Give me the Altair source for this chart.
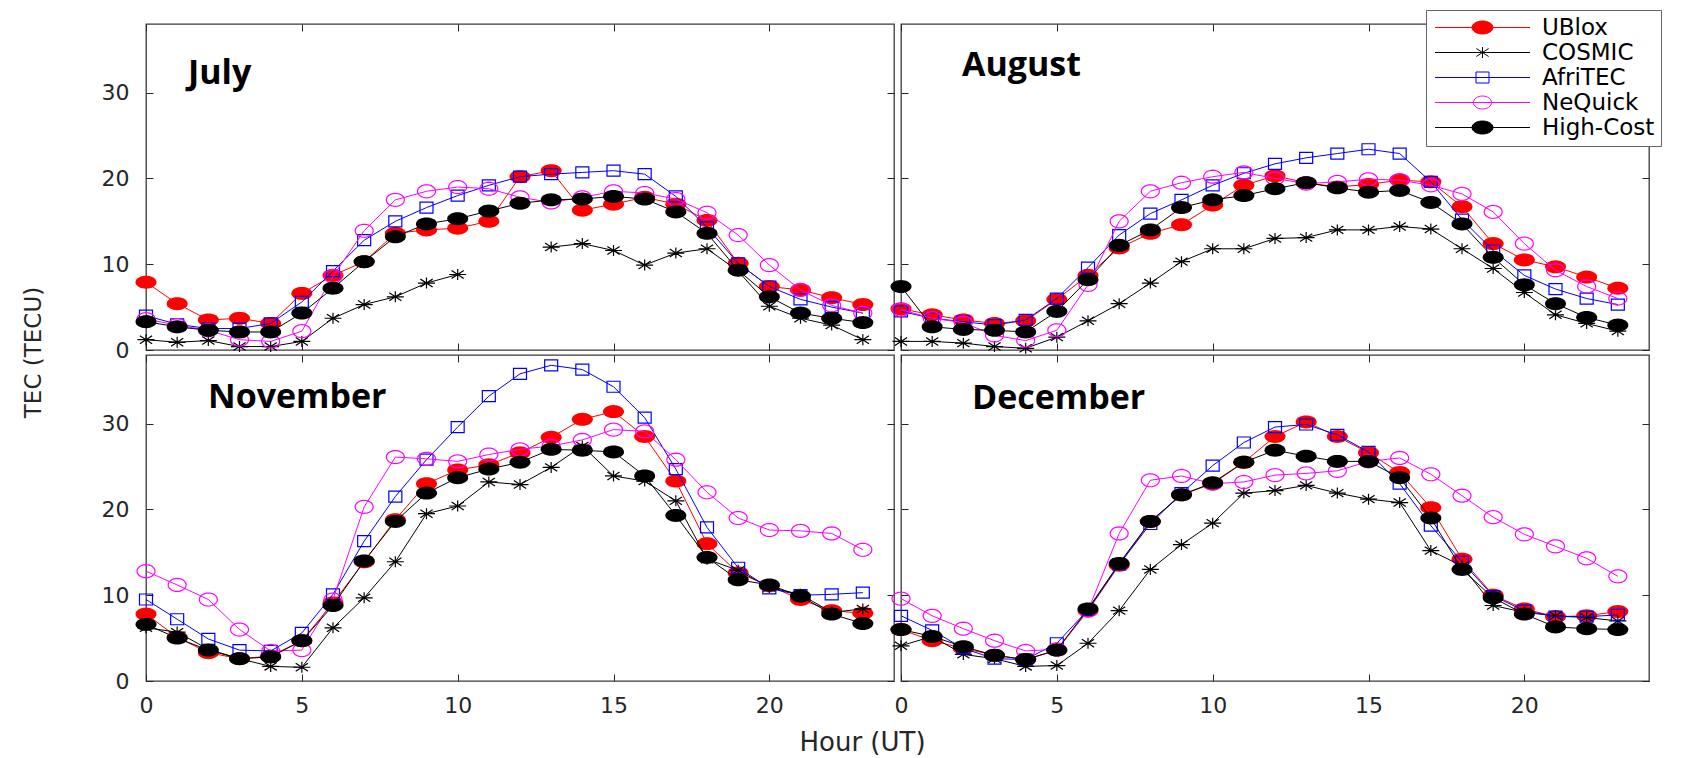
import math
import altair as alt
import pandas as pd

hours = list(range(24))
series_names = ["UBlox", "COSMIC", "AfriTEC", "NeQuick", "High-Cost"]
months = ["July", "August", "November", "December"]
x_ticks = [0, 5, 10, 15, 20]
y_ticks = [0, 10, 20, 30]

# ---- July ----
july_ublox = [7.9, 5.4, 3.5, 3.7, 3.1, 6.6, 8.7, 10.3, 13.6, 14.0, 14.2, 15.0, 20.2, 20.9, 16.3, 17.0, 17.8, 17.0, 15.1, 10.1, 7.4, 7.0, 6.1, 5.3]
july_cosmic = [1.2, 0.9, 1.1, 0.4, 0.4, 1.0, 3.7, 5.3, 6.2, 7.8, 8.8, None, None, 12.0, 12.4, 11.6, 9.9, 11.3, 11.8, 9.2, 5.1, 3.7, 2.9, 1.2]
july_afritec = [4.0, 3.0, 2.5, 2.5, 3.1, 5.6, 9.2, 12.8, 15.0, 16.6, 18.0, 19.2, 20.2, 20.5, 20.7, 20.9, 20.5, 17.9, 14.3, 10.1, 7.4, 5.9, 5.0, 4.3]
july_nequick = [3.6, 2.9, 2.3, 1.2, 1.0, 2.2, 8.6, 13.9, 17.5, 18.5, 19.0, 18.8, 17.8, 17.2, 17.8, 18.5, 18.3, 17.6, 16.0, 13.4, 9.9, 7.0, 5.2, 4.3]
july_highcost = [3.3, 2.7, 2.3, 2.1, 2.1, 4.3, 7.2, 10.3, 13.2, 14.7, 15.3, 16.2, 17.1, 17.5, 17.6, 17.9, 17.6, 16.1, 13.6, 9.3, 6.2, 4.3, 3.7, 3.2]

# ---- August ----
aug_ublox = [4.8, 4.1, 3.5, 3.1, 3.4, 5.9, 8.7, 11.9, 13.6, 14.6, 16.9, 19.2, 20.3, 19.5, 19.0, 19.3, 19.8, 19.6, 16.7, 12.4, 10.5, 9.7, 8.5, 7.2]
aug_cosmic = [1.0, 1.0, 0.8, 0.4, 0.2, 1.5, 3.4, 5.4, 7.8, 10.3, 11.8, 11.8, 13.0, 13.1, 14.0, 14.0, 14.4, 14.1, 11.8, 9.5, 6.7, 4.1, 3.1, 2.2]
aug_afritec = [4.5, 3.7, 3.3, 2.9, 3.5, 6.0, 9.6, 13.4, 15.9, 17.5, 19.2, 20.6, 21.7, 22.4, 22.9, 23.4, 22.9, 19.6, 15.2, 11.6, 8.7, 7.1, 6.0, 5.3]
aug_nequick = [4.7, 3.7, 3.2, 1.7, 1.1, 2.3, 7.6, 15.0, 18.5, 19.5, 20.2, 20.7, 20.0, 19.4, 19.6, 19.9, 19.8, 19.2, 18.2, 16.1, 12.4, 9.3, 7.4, 6.0]
aug_highcost = [7.4, 2.7, 2.4, 2.3, 2.1, 4.5, 8.2, 12.2, 14.0, 16.6, 17.5, 18.0, 18.8, 19.5, 18.9, 18.4, 18.6, 17.2, 14.7, 10.8, 7.6, 5.4, 3.8, 2.9]

# ---- November ----
nov_ublox = [7.8, 5.1, 3.3, 2.6, 2.9, 4.7, 9.1, 13.9, 18.8, 23.0, 24.6, 25.2, 26.6, 28.4, 30.5, 31.4, 28.5, 23.3, 16.0, 12.6, 11.1, 9.5, 8.2, 7.9]
nov_cosmic = [6.2, 5.7, 3.7, 2.6, 1.7, 1.6, 6.2, 9.7, 13.9, 19.5, 20.4, 23.2, 22.9, 24.9, 27.4, 23.9, 23.3, 21.0, 14.2, 12.9, 10.9, 10.1, 8.0, 8.4]
nov_afritec = [9.5, 7.2, 4.9, 3.6, 3.5, 5.6, 10.1, 16.3, 21.5, 25.8, 29.6, 33.2, 35.8, 36.8, 36.3, 34.3, 30.7, 24.7, 17.9, 13.2, 10.8, 10.0, 10.1, 10.3]
nov_nequick = [12.8, 11.2, 9.5, 6.0, 3.5, 3.6, 9.5, 20.3, 26.1, 25.9, 25.6, 26.4, 27.0, 27.4, 28.1, 29.3, 29.1, 25.8, 22.0, 19.0, 17.6, 17.5, 17.2, 15.3]
nov_highcost = [6.6, 5.0, 3.6, 2.6, 2.8, 4.7, 8.8, 14.0, 18.6, 21.9, 23.7, 24.7, 25.5, 27.0, 26.9, 26.7, 23.9, 19.3, 14.4, 11.8, 11.2, 9.9, 7.8, 6.7]

# ---- December ----
dec_ublox = [6.0, 4.7, 3.8, 3.0, 2.5, 3.6, 8.2, 13.5, 18.6, 21.7, 23.0, 25.5, 28.5, 30.2, 28.5, 26.6, 24.3, 20.2, 14.2, 10.0, 8.4, 7.5, 7.6, 8.1]
dec_cosmic = [4.1, 5.2, 3.1, 2.6, 1.7, 1.8, 4.4, 8.2, 13.0, 15.9, 18.4, 21.9, 22.2, 22.8, 21.9, 21.2, 20.8, 15.2, 13.4, 8.8, 8.0, 7.6, 7.4, 7.0]
dec_afritec = [7.6, 5.9, 3.8, 2.6, 2.5, 4.4, 8.3, 13.6, 18.3, 21.9, 25.1, 27.8, 29.6, 29.9, 28.7, 26.7, 23.0, 18.1, 13.9, 9.9, 8.2, 7.5, 7.5, 7.7]
dec_nequick = [9.6, 7.6, 6.1, 4.7, 3.5, 3.7, 8.2, 17.2, 23.4, 23.9, 23.0, 23.2, 24.0, 24.2, 24.5, 25.6, 26.0, 24.1, 21.6, 19.1, 17.1, 15.7, 14.3, 12.2]
dec_highcost = [6.0, 5.2, 4.0, 3.0, 2.5, 3.6, 8.4, 13.7, 18.6, 21.7, 23.1, 25.5, 26.9, 26.2, 25.6, 25.6, 23.7, 19.0, 13.0, 9.7, 7.8, 6.3, 6.1, 6.0]

values = {
    "July": [july_ublox, july_cosmic, july_afritec, july_nequick, july_highcost],
    "August": [aug_ublox, aug_cosmic, aug_afritec, aug_nequick, aug_highcost],
    "November": [nov_ublox, nov_cosmic, nov_afritec, nov_nequick, nov_highcost],
    "December": [dec_ublox, dec_cosmic, dec_afritec, dec_nequick, dec_highcost],
}

rows = []
for m in months:
    for s, vals in zip(series_names, values[m]):
        seg = 0
        for h, v in zip(hours, vals):
            if v is None:
                seg += 1
                continue
            rows.append({"month": m, "series": s, "hour": h, "tec": v, "seg": seg})
df = pd.DataFrame(rows)

# ---- styles ----
colors = {"UBlox": "#ff0000", "COSMIC": "#000000", "AfriTEC": "#0000ff",
          "NeQuick": "#ff00ff", "High-Cost": "#000000"}
markers = {  # kind, width px, height px, filled
    "UBlox": ("ellipse", 21, 13, True),
    "COSMIC": ("star", 17, 11, False),
    "AfriTEC": ("square", 13, 11, False),
    "NeQuick": ("ellipse", 18, 13, False),
    "High-Cost": ("ellipse", 21, 13, True),
}


def shape_path(kind, hx, hy):
    if kind == "ellipse":
        n = 32
        pts = [(hx * math.cos(2 * math.pi * i / n), hy * math.sin(2 * math.pi * i / n)) for i in range(n)]
        return "M" + "L".join(f"{x:.3f},{y:.3f}" for x, y in pts) + "Z"
    if kind == "square":
        return f"M{-hx:.3f},{-hy:.3f}L{hx:.3f},{-hy:.3f}L{hx:.3f},{hy:.3f}L{-hx:.3f},{hy:.3f}Z"
    dx, dy = 0.72 * hx, 0.72 * hy
    return (f"M{-hx:.3f},0L{hx:.3f},0M0,{-hy:.3f}L0,{hy:.3f}"
            f"M{-dx:.3f},{-dy:.3f}L{dx:.3f},{dy:.3f}M{-dx:.3f},{dy:.3f}L{dx:.3f},{-dy:.3f}")


LEG_NOM = 20.0  # nominal legend symbol size in px
legend_paths = []
for s in series_names:
    kind, w, h, filled = markers[s]
    legend_paths.append("M-4.75,0L4.75,0" + shape_path(kind, w / LEG_NOM, h / LEG_NOM))
legend_fills = [colors[s] if markers[s][3] else "transparent" for s in series_names]
legend_strokes = [colors[s] for s in series_names]

W, H = 748, 326
TL = 7
FONT = "DejaVu Sans"
TXT = "#262626"

label_pos = {"July": (42, 60), "August": (61, 52), "November": (62, 53), "December": (71, 54)}


def panel(month, row, col, with_legend=False):
    src = alt.Chart(df).transform_filter(alt.datum.month == month)
    xs = alt.Scale(domain=[0, 24], nice=False, zero=False)
    ys = alt.Scale(domain=[0, 38], nice=False, zero=False)

    common = dict(offset=-TL, tickSize=TL, domain=False, grid=False, labelFlush=False,
                  tickColor=TXT, tickWidth=1)
    bottom_kw = dict(orient="bottom", values=x_ticks, labels=(row == 1), labelPadding=14, title="", **common)
    left_kw = dict(orient="left", values=y_ticks, labels=(col == 0), labelPadding=17, title="", **common)
    if row == 1 and col == 0:
        bottom_kw.update(title="Hour (UT)", titleX=716, titleY=68, titleBaseline="middle",
                         titleFontSize=26)
        left_kw.update(title="TEC (TECU)", titleX=-120, titleY=-3, titleBaseline="middle",
                       titleAngle=270, titleFontSize=23)
    top_kw = dict(orient="top", values=x_ticks, labels=False, title="", **common)
    right_kw = dict(orient="right", values=y_ticks, labels=False, title="", **common)

    layers = []
    for i, s in enumerate(series_names):
        sub = src.transform_filter(alt.datum.series == s)
        if i == 0:
            xa1, ya1 = alt.Axis(**bottom_kw), alt.Axis(**left_kw)
            xa2, ya2 = alt.Axis(**top_kw), alt.Axis(**right_kw)
        else:
            xa1 = ya1 = xa2 = ya2 = None
        line = sub.mark_line(color=colors[s], strokeWidth=1).encode(
            x=alt.X("hour:Q", scale=xs, axis=xa1),
            y=alt.Y("tec:Q", scale=ys, axis=ya1),
            detail="seg:N",
        )
        kind, w, h, filled = markers[s]
        pts = sub.mark_point(shape=shape_path(kind, 1.0, h / w), size=w * w, filled=filled,
                             color=colors[s], opacity=1, strokeWidth=1.2).encode(
            x=alt.X("hour:Q", scale=xs, axis=xa2),
            y=alt.Y("tec:Q", scale=ys, axis=ya2),
        )
        layers += [line, pts]

    lx, ly = label_pos[month]
    lab = alt.Chart(pd.DataFrame({"m": [month]})).mark_text(
        align="left", baseline="alphabetic", font="Open Sans", fontWeight="bold",
        fontSize=34, color="black").encode(x=alt.value(lx), y=alt.value(ly), text="m:N")
    layers.append(lab)

    if with_legend:
        leg = alt.Legend(orient="none", legendX=525, legendY=-14, title=None, padding=6,
                         symbolSize=LEG_NOM * LEG_NOM, symbolStrokeWidth=1, symbolOpacity=1,
                         symbolOffset=39, labelOffset=48, labelFont=FONT, labelFontSize=23,
                         labelColor="#000000", rowPadding=1, strokeColor="#666666",
                         fillColor="#ffffff", cornerRadius=0,
                         labelExpr="datum.label + '    '")
        dummy = alt.Chart(pd.DataFrame({"series": series_names})).transform_filter(
            "false").mark_point(size=LEG_NOM * LEG_NOM, opacity=1).encode(
            shape=alt.Shape("series:N", scale=alt.Scale(domain=series_names, range=legend_paths), legend=leg),
            stroke=alt.Stroke("series:N", scale=alt.Scale(domain=series_names, range=legend_strokes), legend=leg),
            fill=alt.Fill("series:N", scale=alt.Scale(domain=series_names, range=legend_fills), legend=leg),
        )
        layers.append(dummy)

    return alt.layer(*layers).resolve_axis(x="independent", y="independent").properties(width=W, height=H)


indep = dict(shape="independent", stroke="independent", fill="independent")
chart = alt.concat(
    panel("July", 0, 0), panel("August", 0, 1, with_legend=True),
    panel("November", 1, 0), panel("December", 1, 1),
    columns=2, spacing={"row": 5, "column": 7}, bounds="flush",
).resolve_scale(**indep).resolve_legend(**indep).properties(
    padding={"left": 13, "top": 0, "right": 2, "bottom": 0}, background="white"
).configure_view(stroke="#3a3a3a", strokeWidth=1.3).configure_axis(
    labelFont=FONT, labelFontSize=22, labelColor=TXT, titleFont=FONT,
    titleFontWeight="normal", titleColor=TXT
)

chart.save("out.html", embed_options={"renderer": "svg", "actions": False})
